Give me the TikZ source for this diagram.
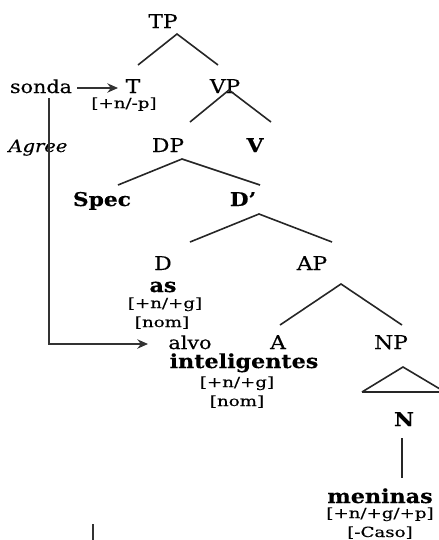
\documentclass[tikz,border=0pt]{standalone}
\usepackage{fontspec}
\setmainfont{DejaVu Serif}[FakeStretch=1.15,FakeBold=0.4,BoldFeatures={FakeBold=0.3}]
\newfontfamily\featfont{DejaVu Serif}[FakeStretch=1.3,FakeBold=0.3]
\usetikzlibrary{arrows.meta}
\begin{document}
\begin{tikzpicture}[x=0.75pt,y=-0.75pt,
  lab/.style={anchor=base,inner sep=0pt,font=\fontsize{14.2}{16}\selectfont},
  wlab/.style={anchor=base,inner sep=0pt,font=\fontsize{13.5}{15}\selectfont},
  blab/.style={lab,font=\fontsize{14.2}{16}\selectfont\bfseries},
  word/.style={anchor=base,inner sep=0pt,font=\fontsize{14.5}{16}\selectfont\bfseries},
  feat/.style={anchor=base,inner sep=0pt,font=\featfont\fontsize{10.5}{12}\selectfont},
  br/.style={line width=1.2pt,black!85},
  arr/.style={line width=1.2pt,black!80,-{Stealth[length=8pt,width=7pt]}}]
\useasboundingbox (0,0) rectangle (439,540);
% labels
\node[lab] (TP) at (163,28) {TP};
\node[wlab] (sonda) at (41,93) {sonda};
\node[lab] (T) at (133,93) {T};
\node[feat] (fT) at (124,108) {[+n/-p]};
\node[lab] (VP) at (225,93) {VP};
\node[wlab,font=\fontsize{12.7}{14}\selectfont\itshape] (agree) at (38,152) {Agree};
\node[lab] (DP) at (168,152) {DP};
\node[blab] (V) at (255,152) {V};
\node[blab] (Spec) at (102,206) {Spec};
\node[blab] (Dbar) at (243,206) {D’};
\node[lab] (D) at (163,270) {D};
\node[lab] (AP) at (312,270) {AP};
\node[word] (as) at (163,292) {as};
\node[feat] (fas1) at (165,308) {[+n/+g]};
\node[feat] (fas2) at (162,327) {[nom]};
\node[wlab] (alvo) at (190,349) {alvo};
\node[lab] (A) at (278,349) {A};
\node[lab] (NP) at (391,349) {NP};
\node[word] (intel) at (244,368) {inteligentes};
\node[feat] (fi1) at (237,387) {[+n/+g]};
\node[feat] (fi2) at (237,406) {[nom]};
\node[blab] (N) at (404,426) {N};
\node[word] (men) at (380,503) {meninas};
\node[feat] (fm1) at (380,518) {[+n/+g/+p]};
\node[feat] (fm2) at (380,537) {[-Caso]};
% branch points
\coordinate (tpa) at (177,34);
\coordinate (tpl) at (138,65);
\coordinate (tpr) at (218,65);
\coordinate (vpa) at (229,90);
\coordinate (vpl) at (190,122);
\coordinate (vpr) at (271,122);
\coordinate (dpa) at (182,159);
\coordinate (dpl) at (118,185);
\coordinate (dpr) at (260,185);
\coordinate (dba) at (259,214);
\coordinate (dbl) at (190,242);
\coordinate (dbr) at (332,242);
\coordinate (apa) at (341,284);
\coordinate (apl) at (280,325);
\coordinate (apr) at (402,325);
\coordinate (tra) at (403,367);
\coordinate (trl) at (362,392);
\coordinate (trr) at (445,392);
\coordinate (nt) at (402,438);
\coordinate (nb) at (402,478);
\coordinate (sa) at (77,88);
\coordinate (sb) at (118,88);
\coordinate (ga) at (49,98);
\coordinate (gc) at (49,344);
\coordinate (gb) at (148,344);
\coordinate (st1) at (93,524);
\coordinate (st2) at (93,540);
% branches
\draw[br] (tpl) -- (tpa) -- (tpr);
\draw[br] (vpl) -- (vpa) -- (vpr);
\draw[br] (dpl) -- (dpa) -- (dpr);
\draw[br] (dbl) -- (dba) -- (dbr);
\draw[br] (apl) -- (apa) -- (apr);
\draw[br] (trl) -- (tra) -- (trr) (trl) -- (trr);
\draw[br,line width=1.6pt] (nt) -- (nb);
\draw[arr] (sa) -- (sb);
\draw[arr] (ga) -- (gc) -- (gb);
\draw[line width=1.6pt,black!80] (st1) -- (st2);
\end{tikzpicture}
\end{document}
